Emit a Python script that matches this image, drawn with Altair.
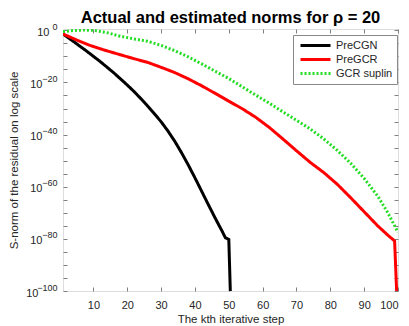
import altair as alt
import pandas as pd

series = ["PreCGN", "PreGCR", "GCR suplin"]
colors = ["#000000", "#ff0000", "#22dd22"]

# iteration steps and log10 of the S-norm
cgn_k = [1, 4, 8, 12, 16, 20, 22, 24, 26, 28, 30, 32, 34, 36, 38, 40, 42, 44, 46,
         48, 49, 50, 51]
cgn_log = [-1.4, -4.2, -8.0, -12.0, -16.3, -21.0, -23.5, -26.2, -29.0, -32.0, -35.1,
           -38.6, -42.5, -46.9, -51.6, -56.6, -61.8, -67.0, -72.1, -77.0, -79.6,
           -80.2, -125.0]

gcr_k = [1, 5, 9, 13, 18, 22, 26, 30, 34, 38, 42, 46, 50, 54, 58, 62, 66, 70, 74,
         78, 82, 86, 90, 94, 97, 99, 100]
gcr_log = [-1.4, -3.7, -5.8, -7.5, -9.4, -10.9, -12.3, -14.2, -16.2, -18.6, -21.3,
           -24.2, -27.2, -30.1, -33.4, -37.3, -41.7, -46.2, -50.6, -54.5, -59.0,
           -64.2, -69.6, -75.0, -78.6, -80.8, -113.0]

sup_k = [1, 4, 7, 10, 14, 18, 22, 26, 30, 34, 38, 42, 46, 50, 54, 58, 62, 66, 70,
         74, 78, 82, 86, 90, 94, 97, 100]
sup_log = [-0.5, -0.1, 0.1, 0.0, -0.9, -2.3, -3.3, -4.2, -5.8, -7.8, -10.2, -12.9,
           -15.7, -18.5, -21.7, -24.9, -28.0, -31.3, -34.5, -37.8, -41.6, -46.0,
           -51.0, -56.8, -63.6, -70.0, -77.5]

x_ticks = [10, 20, 30, 40, 50, 60, 70, 80, 90, 100]
y_tick_exps = list(range(0, -101, -5))
y_label_exps = [0, -20, -40, -60, -80, -100]

rows = []
for name, ks, es in [(series[0], cgn_k, cgn_log), (series[1], gcr_k, gcr_log),
                     (series[2], sup_k, sup_log)]:
    for k, e in zip(ks, es):
        rows.append({"k": k, "norm": 10.0 ** e, "method": name})
df = pd.DataFrame(rows)

y_ticks = [10.0 ** e for e in y_tick_exps]
EXP = "round(log(datum.value)/LN10)"
shown = " || ".join(f"{EXP} == {e}" for e in y_label_exps)
base_expr = f"({shown}) ? '10' : ''"
exp_expr = f"({shown}) ? format({EXP}, 'd') : ''"

FONT = "Liberation Sans"
TXT = "#262626"
AX = "#808080"

x_scale = alt.Scale(domain=[1, 100], nice=False, zero=False)
y_scale = alt.Scale(type="log", domain=[1e-100, 10 ** 0.5], nice=False)

leg = alt.Legend(
    title=None, orient="none", legendX=230, legendY=6,
    symbolType="M-3,0H3", symbolSize=100, symbolOffset=12,
    labelFontSize=11, labelFont=FONT,
    labelColor=TXT, strokeColor="#888888", fillColor="white", padding=4,
    rowPadding=1, labelOffset=14, symbolStrokeWidth=3,
)

base_pad = {"condition": [
    {"test": "datum.value > 0.5", "value": 14},
    {"test": "datum.value < 1e-99", "value": 25},
], "value": 21}

lines = alt.Chart(df).mark_line(clip=True).encode(
    x=alt.X("k:Q", scale=x_scale, axis=alt.Axis(
        values=x_ticks, title="The kth iterative step", orient="bottom",
        domain=False, offset=-4, tickSize=4, tickColor=AX, labelPadding=8,
        labelFont=FONT, labelFontSize=11, labelColor=TXT, grid=False,
        titleFont=FONT, titleFontSize=11.5, titleFontWeight="normal",
        titleColor=TXT, titlePadding=3)),
    y=alt.Y("norm:Q", scale=y_scale, axis=alt.Axis(
        values=y_ticks, labelExpr=base_expr, title="S-norm of the residual on log scale",
        orient="left", domain=False, offset=-4, tickSize=4, tickColor=AX,
        labelPadding=base_pad, labelFont=FONT, labelFontSize=11, labelColor=TXT,
        labelAlign="right", labelOffset=2,
        grid=False, titleFont=FONT, titleFontSize=11.5, titleFontWeight="normal",
        titleColor=TXT, titlePadding=6)),
    color=alt.Color("method:N", scale=alt.Scale(domain=series, range=colors), legend=leg),
    strokeDash=alt.StrokeDash("method:N", scale=alt.Scale(
        domain=series, range=[[1, 0], [1, 0], [2, 2]]), legend=leg),
    strokeWidth=alt.StrokeWidth("method:N", scale=alt.Scale(
        domain=series, range=[3, 3, 2.2]), legend=leg),
    order=alt.Order("k:Q"),
)

frame = alt.Chart(df).mark_line(opacity=0).encode(
    x=alt.X("k:Q", scale=x_scale, axis=alt.Axis(
        values=x_ticks, title=None, orient="top", labels=False, domain=False,
        offset=-4, tickSize=4, tickColor=AX, grid=False)),
    y=alt.Y("norm:Q", scale=y_scale, axis=alt.Axis(
        values=y_ticks, title=None, orient="right", labels=False, domain=False,
        offset=-4, tickSize=4, tickColor=AX, grid=False)),
    detail="method:N",
)

exps = alt.Chart(df).mark_line(opacity=0).encode(
    x=alt.X("k:Q", scale=x_scale, axis=None),
    y=alt.Y("norm:Q", scale=y_scale, axis=alt.Axis(
        values=y_ticks, labelExpr=exp_expr, title=None, orient="left",
        domain=False, ticks=False, offset=-4, labelPadding=10,
        labelFont=FONT, labelFontSize=9, labelColor=TXT, labelAlign="right",
        labelOffset=-4, grid=False)),
    detail="method:N",
)

chart = alt.layer(lines, frame, exps).resolve_axis(
    x="independent", y="independent"
).properties(
    width=335, height=262,
    title=alt.Title("Actual and estimated norms for ρ = 20", font=FONT, fontSize=16.5,
                    fontWeight="bold", color="#000000", offset=7, frame="group", dy=11),
    autosize=alt.AutoSizeParams(type="none"),
    padding={"left": 55, "top": 21, "right": 3, "bottom": 35},
).configure_view(stroke=AX, strokeWidth=1).configure(background="white")

chart.save("out.html", embed_options={"renderer": "svg", "actions": False})
